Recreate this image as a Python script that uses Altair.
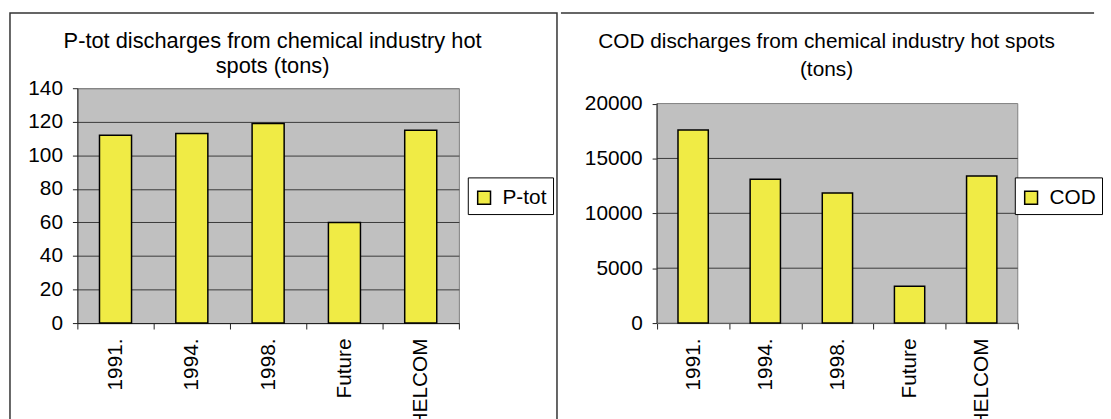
import altair as alt
import pandas as pd

categories = ["1991.", "1994.", "1998.", "Future", "HELCOM"]
ptot_values = [112, 113, 119, 60, 115]
cod_values = [17600, 13100, 11850, 3350, 13400]
ptot_ticks = [0, 20, 40, 60, 80, 100, 120, 140]
cod_ticks = [0, 5000, 10000, 15000, 20000]
ptot_title = ["P-tot discharges from chemical industry hot", "spots (tons)"]
cod_title = ["COD discharges from chemical industry hot spots", "(tons)"]

FONT = "Liberation Sans"
YELLOW = "#F0EB45"
GRID = "#3a3a3a"
PLOT_BG = "#C0C0C0"
PLOT_EDGE = "#808080"
AXIS_C = "#222"
SQUARE = "M-0.78,-0.48H0.18V0.48H-0.78Z"

df1 = pd.DataFrame({"cat": categories, "val": ptot_values, "series": "P-tot"})
df2 = pd.DataFrame({"cat": categories, "val": cod_values, "series": "COD"})
one = pd.DataFrame({"k": [0]})
cod_grid = pd.DataFrame({"g": cod_ticks[1:-1]})

H = 237


def xaxis():
    return alt.Axis(title=None, tickBand="extent", tickSize=6, tickColor=AXIS_C,
                    domainColor=AXIS_C, labelAngle=270, labelPadding=9,
                    labelFontSize=21, labelFont=FONT, labelColor="black",
                    grid=False)


def legend(legx, legy):
    return alt.Legend(title=None, orient="none", legendX=legx, legendY=legy,
                      strokeColor="black", fillColor="white", padding=6,
                      labelFontSize=21, labelFont=FONT, labelColor="black",
                      symbolType=SQUARE, symbolSize=729, symbolStrokeColor="black",
                      symbolStrokeWidth=1.5, labelOffset=0)


def title(text, size, line_h, off, dx):
    return alt.TitleParams(text, font=FONT, fontSize=size, fontWeight="normal",
                           color="black", anchor="middle", frame="group",
                           lineHeight=line_h, offset=off, dx=dx)


# ---------- left panel: P-tot ----------
W1 = 385
left_bars = alt.Chart(df1).mark_bar(
    width=alt.RelativeBandSize(0.42), stroke="black", strokeWidth=1.5
).encode(
    x=alt.X("cat:N", sort=categories,
            scale=alt.Scale(paddingInner=0, paddingOuter=0), axis=xaxis()),
    y=alt.Y("val:Q", scale=alt.Scale(domain=[0, 140], nice=False),
            axis=alt.Axis(title=None, values=ptot_ticks, format="d", tickSize=5,
                          tickColor=AXIS_C, domainColor=AXIS_C, labelPadding=10,
                          labelFontSize=21, labelFont=FONT, labelColor="black",
                          grid=True,
                          gridColor=alt.condition("datum.value < 140",
                                                  alt.value(GRID),
                                                  alt.value(PLOT_EDGE)))),
    color=alt.Color("series:N", scale=alt.Scale(range=[YELLOW]),
                    legend=legend(394, 90)),
)
left_border = alt.Chart(one).mark_rect(
    fillOpacity=0, stroke="#333", strokeWidth=1.5
).encode(x=alt.value(-68), x2=alt.value(484), y=alt.value(-76), y2=alt.value(345))

left = alt.layer(left_border, left_bars).properties(
    width=W1, height=H,
    title=title(ptot_title, 22, 25, -66, 4.5),
    view=alt.ViewBackground(fill=PLOT_BG, stroke=PLOT_EDGE),
)

# ---------- right panel: COD ----------
W2 = 364
COD_TOP = 21400          # scale top so that 20000 sits 15 px below the view top
ysc = alt.Scale(domain=[0, COD_TOP], nice=False)
cod_yaxis = alt.Axis(title=None, values=cod_ticks, format="d", tickSize=5,
                     tickColor=AXIS_C, domain=False, labelPadding=10,
                     labelFontSize=21, labelFont=FONT, labelColor="black",
                     grid=False)

cod_bg = alt.Chart(one).mark_rect(
    fill=PLOT_BG, stroke=PLOT_EDGE, strokeWidth=1
).encode(x=alt.value(0), x2=alt.value(W2),
         y=alt.Y(datum=20000, type="quantitative", scale=ysc, axis=cod_yaxis),
         y2=alt.Y2(datum=0))

cod_gridlines = alt.Chart(cod_grid).mark_rule(color=GRID, strokeWidth=1).encode(
    x=alt.value(0), x2=alt.value(W2),
    y=alt.Y("g:Q", scale=ysc, axis=cod_yaxis))

cod_bars = alt.Chart(df2).mark_bar(
    width=alt.RelativeBandSize(0.42), stroke="black", strokeWidth=1.5
).encode(
    x=alt.X("cat:N", sort=categories,
            scale=alt.Scale(paddingInner=0, paddingOuter=0), axis=xaxis()),
    y=alt.Y("val:Q", scale=ysc, axis=cod_yaxis),
    color=alt.Color("series:N", scale=alt.Scale(range=[YELLOW]),
                    legend=legend(361, 90)),
)

cod_domain = alt.Chart(one).mark_rule(color=AXIS_C, strokeWidth=1).encode(
    x=alt.value(0),
    y=alt.Y(datum=0, type="quantitative", scale=ysc, axis=cod_yaxis),
    y2=alt.Y2(datum=20000))

right_border = alt.Chart(one).mark_rule(
    stroke="#333", strokeWidth=1.5
).encode(x=alt.value(-97), x2=alt.value(441), y=alt.value(-76))

right = alt.layer(right_border, cod_bg, cod_gridlines, cod_bars, cod_domain).properties(
    width=W2, height=H,
    title=title(cod_title, 21, 28, -68, -11),
    view=alt.ViewBackground(fill="transparent", stroke="transparent"),
)

chart = alt.concat(left, right, columns=2, spacing=0).resolve_scale(
    color="independent", x="independent", y="independent"
).properties(
    padding={"left": 0, "top": 1, "right": 0, "bottom": 0},
    background="white",
)

chart.save("out.html", embed_options={"renderer": "svg", "actions": False})
